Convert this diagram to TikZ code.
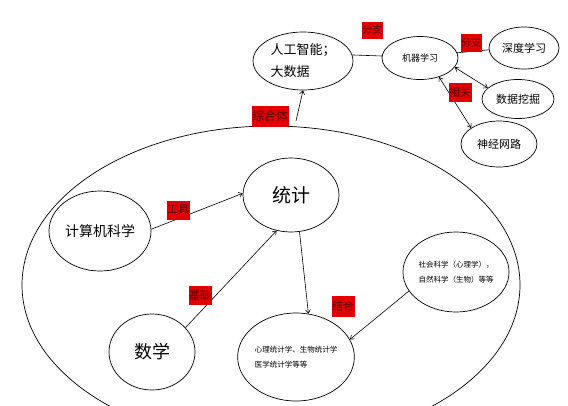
\documentclass[tikz,border=0pt]{standalone}
\usepackage{fontspec}
\setmainfont{Noto Sans CJK SC}
\usetikzlibrary{shapes.geometric,arrows.meta}
\begin{document}
\begin{tikzpicture}[x=1pt,y=-1pt,
 el/.style={draw,ellipse,inner sep=0pt,line width=0.7pt},
 tag/.style={fill=red!88!black,inner xsep=0.5pt,inner ysep=0pt,minimum height=19pt,text=black!70!red,font=\fontsize{11}{12}\selectfont},
 arr/.style={-{Straight Barb[length=3.5pt,width=5pt]},line width=0.6pt},
 darr/.style={{Straight Barb[length=3.5pt,width=5pt]}-{Straight Barb[length=3.5pt,width=5pt]},line width=0.6pt},
 ln/.style={line width=0.6pt}]
\useasboundingbox (0,0) rectangle (568,405);
\begin{scope}
\clip (0,0) rectangle (568,405);
\node[el, minimum width=498pt, minimum height=318pt] (big) at (271,285) {};
\end{scope}
% top nodes
\node[el, minimum width=100pt, minimum height=58pt, align=left, font=\fontsize{13}{22}\selectfont] (ai) at (303,61) {人工智能；\\大数据};
\node[el, minimum width=76pt, minimum height=43pt, font=\fontsize{9}{10}\selectfont] (ml) at (420,58) {机器学习};
\node[el, minimum width=70pt, minimum height=42pt, font=\fontsize{11}{12}\selectfont] (sd) at (524,48) {深度学习};
\node[el, minimum width=72pt, minimum height=39pt, font=\fontsize{11}{12}\selectfont] (wj) at (518,99) {数据挖掘};
\node[el, minimum width=76pt, minimum height=46pt, font=\fontsize{11}{12}\selectfont] (sj) at (499,144) {神经网路};
% lower nodes
\node[el, minimum width=96pt, minimum height=74pt, font=\fontsize{19}{20}\selectfont] (tj) at (291,195) {统计};
\node[el, minimum width=102pt, minimum height=80pt, font=\fontsize{14}{15}\selectfont] (ck) at (100,231) {计算机科学};
\node[el, minimum width=86pt, minimum height=76pt, font=\fontsize{18}{19}\selectfont] (sx) at (152,352) {数学};
\node[el, minimum width=112pt, minimum height=88pt, align=left, font=\fontsize{7.5}{15}\selectfont] (xl) at (296,357) {心理统计学、生物统计学\\医学统计学等等};
\node[el, minimum width=104pt, minimum height=80pt, align=left, font=\fontsize{7.5}{15}\selectfont] (sh) at (456,272) {社会科学（心理学），\\自然科学（生物）等等};
% connectors
\coordinate (zs) at (296,121);
\draw[arr] (zs) -- (ai.south);
\draw[ln] (ai.7) -- (ml.177);
\draw[ln] (ml.8) -- (sd.183);
\draw[darr] (ml.-15) -- (wj.160);
\draw[darr] (ml.-45) -- (sj.150);
\draw[arr] (ck.2) -- (tj.178);
\draw[arr] (sx.36) -- (tj.248);
\draw[arr] (tj.283) -- (xl.74);
\draw[arr] (sh.202) -- (xl.18);
% tags
\node[tag, font=\fontsize{10}{11}\selectfont, minimum height=17pt] (t1) at (372,30) {分支};
\node[tag, font=\fontsize{10}{11}\selectfont, minimum height=18pt] (t2) at (471,43) {分支};
\node[tag] (t3) at (460,92) {相关};
\node[tag, font=\fontsize{12}{13}\selectfont, minimum height=21pt] (t4) at (270,116) {综合体};
\node[tag] (t5) at (178,210) {工具};
\node[tag] (t6) at (200,295) {基础};
\node[tag, minimum height=21pt] (t7) at (343,306) {结合};
\end{tikzpicture}
\end{document}
